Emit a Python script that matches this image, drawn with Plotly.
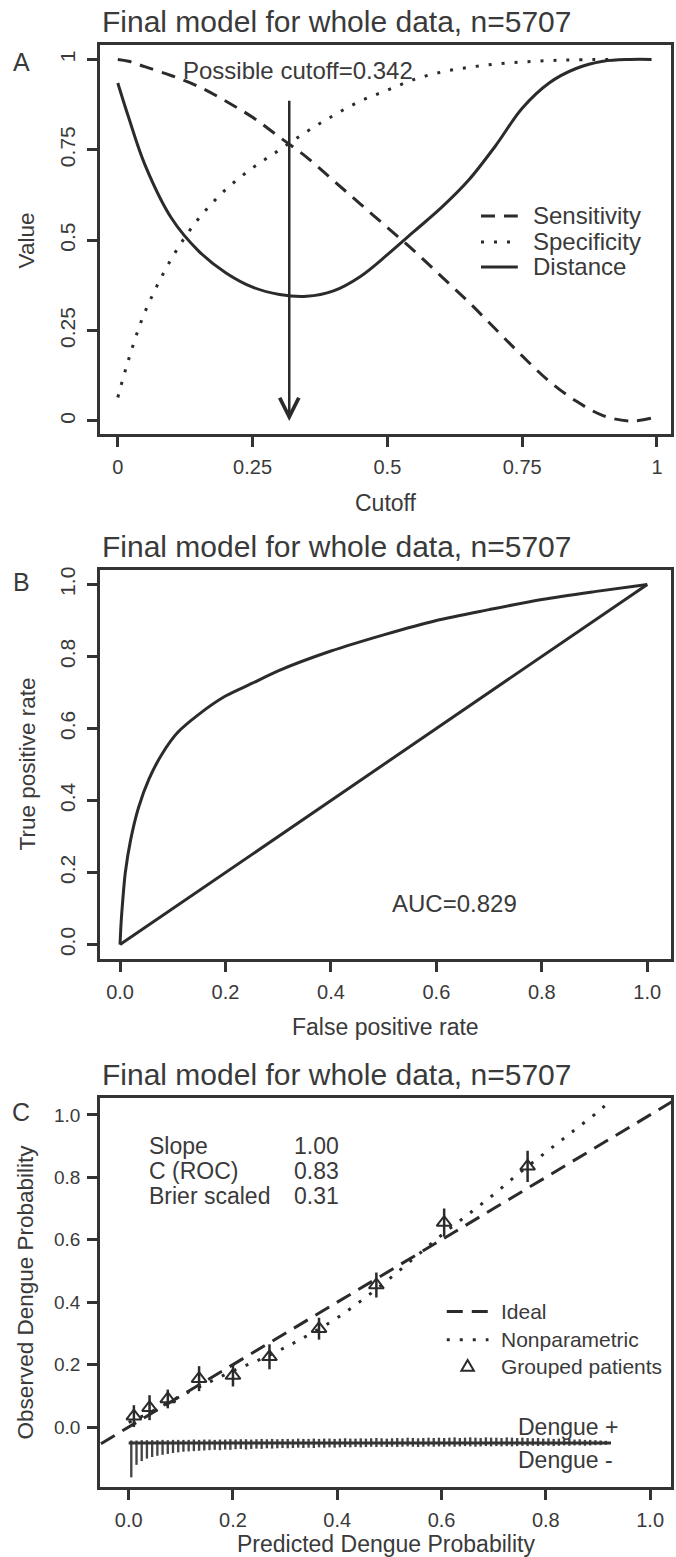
import plotly.graph_objects as go

# ---------------- data ----------------
# Panel A: cutoff curves
cutoff = [0.0, 0.02, 0.05, 0.1, 0.15, 0.2, 0.25, 0.3, 0.35, 0.4, 0.45, 0.5, 0.55,
          0.6, 0.65, 0.7, 0.75, 0.8, 0.85, 0.9, 0.95, 0.99]
sensitivity = [1.0, 0.995, 0.98, 0.955, 0.925, 0.885, 0.84, 0.785, 0.73, 0.665, 0.6,
               0.535, 0.47, 0.4, 0.33, 0.255, 0.18, 0.11, 0.055, 0.015, 0.0, 0.008]
spec_cutoff = [0.0, 0.02, 0.05, 0.1, 0.15, 0.2, 0.25, 0.3, 0.35, 0.4, 0.45, 0.5, 0.55,
               0.6, 0.65, 0.7, 0.75, 0.8, 0.85, 0.92]
specificity = [0.065, 0.17, 0.3, 0.45, 0.56, 0.64, 0.7, 0.75, 0.8, 0.845, 0.885, 0.915,
               0.945, 0.965, 0.978, 0.987, 0.993, 0.997, 0.999, 1.0]
distance = [0.935, 0.84, 0.71, 0.56, 0.47, 0.41, 0.37, 0.35, 0.345, 0.36, 0.40, 0.46,
            0.525, 0.59, 0.665, 0.76, 0.865, 0.935, 0.975, 0.995, 1.0, 1.0]
best_cutoff = 0.318
arrow_top = 0.89

# Panel B: ROC
fpr = [0.0, 0.002, 0.005, 0.01, 0.02, 0.035, 0.055, 0.08, 0.11, 0.15, 0.2, 0.25,
       0.3, 0.4, 0.5, 0.6, 0.7, 0.8, 0.9, 1.0]
tpr = [0.0, 0.06, 0.12, 0.2, 0.29, 0.38, 0.46, 0.53, 0.59, 0.64, 0.69, 0.725,
       0.76, 0.815, 0.86, 0.9, 0.93, 0.958, 0.98, 1.0]
diag = [0.0, 1.0]

# Panel C: calibration
ideal = [-0.3, 1.3]
np_x = [0.0, 0.02, 0.05, 0.1, 0.15, 0.2, 0.25, 0.3, 0.35, 0.4, 0.45, 0.5, 0.55, 0.6,
        0.65, 0.7, 0.75, 0.8, 0.85, 0.9, 0.92]
np_y = [0.015, 0.03, 0.055, 0.1, 0.14, 0.18, 0.215, 0.255, 0.3, 0.35, 0.41, 0.475,
        0.545, 0.615, 0.68, 0.745, 0.815, 0.88, 0.945, 1.01, 1.04]
grp_x = [0.01, 0.04, 0.075, 0.135, 0.2, 0.27, 0.365, 0.475, 0.605, 0.765]
grp_y = [0.035, 0.062, 0.09, 0.155, 0.165, 0.225, 0.315, 0.455, 0.655, 0.835]
grp_err = [0.035, 0.04, 0.03, 0.04, 0.035, 0.04, 0.035, 0.04, 0.045, 0.05]

rug_x = [round(0.005 + 0.01 * i, 3) for i in range(92)]
rug_neg = [0.11, 0.07, 0.058, 0.05, 0.045, 0.041, 0.038, 0.035, 0.032, 0.03,
           0.028, 0.027, 0.026, 0.025, 0.024, 0.023, 0.022, 0.023, 0.021, 0.022,
           0.02, 0.019, 0.021, 0.019, 0.018, 0.019, 0.017, 0.018, 0.017, 0.016,
           0.017, 0.016, 0.015, 0.016, 0.015, 0.016, 0.014, 0.015, 0.014, 0.015,
           0.014, 0.013, 0.014, 0.013, 0.014, 0.013, 0.012, 0.013, 0.012, 0.013,
           0.012, 0.013, 0.012, 0.011, 0.012, 0.013, 0.012, 0.011, 0.012, 0.011,
           0.012, 0.011, 0.012, 0.011, 0.010, 0.011, 0.012, 0.011, 0.010, 0.011,
           0.010, 0.011, 0.010, 0.011, 0.010, 0.009, 0.010, 0.009, 0.010, 0.009,
           0.009, 0.010, 0.009, 0.008, 0.009, 0.008, 0.008, 0.009, 0.008, 0.007,
           0.007, 0.006]
rug_pos = [0.008, 0.008, 0.009, 0.009, 0.009, 0.009, 0.010, 0.009, 0.010, 0.010,
           0.010, 0.010, 0.011, 0.010, 0.011, 0.011, 0.010, 0.011, 0.011, 0.012,
           0.011, 0.012, 0.012, 0.011, 0.012, 0.013, 0.012, 0.013, 0.012, 0.013,
           0.013, 0.012, 0.014, 0.013, 0.013, 0.014, 0.013, 0.014, 0.014, 0.013,
           0.014, 0.015, 0.014, 0.014, 0.015, 0.014, 0.015, 0.016, 0.015, 0.014,
           0.015, 0.016, 0.015, 0.017, 0.016, 0.015, 0.016, 0.017, 0.016, 0.017,
           0.016, 0.017, 0.018, 0.016, 0.017, 0.018, 0.017, 0.016, 0.018, 0.017,
           0.017, 0.016, 0.018, 0.017, 0.016, 0.017, 0.016, 0.015, 0.016, 0.014,
           0.015, 0.013, 0.014, 0.012, 0.013, 0.011, 0.012, 0.010, 0.010, 0.009,
           0.008, 0.007]
rug_base = -0.051
rug_line_x = [0.0, 0.925]

stats_labels = ["Slope", "C (ROC)", "Brier scaled"]
stats_values = ["1.00", "0.83", "0.31"]
stats_y = [0.90, 0.82, 0.74]

legA_names = ["Sensitivity", "Specificity", "Distance"]
legC_names = ["Ideal", "Nonparametric", "Grouped patients"]

title_text = "Final model for whole data, n=5707"

# ---------------- styling ----------------
W, H = 676, 1557
ML, MR, MT, MB = 100, 2, 45, 70
PW, PH = W - ML - MR, H - MT - MB
FONT = "Liberation Sans, Arial, Helvetica, sans-serif"
INK = "#2b2b2b"
TXT = "#3a3a3a"
DASH_A = "14px,9px"
DOT = "3px,10px"


def px(x):
    return (x - ML) / PW


def py(y):
    return 1 - (y - MT) / PH


fig = go.Figure()

# Panel A
fig.add_trace(go.Scatter(x=cutoff, y=sensitivity, mode="lines", name=legA_names[0],
                         line=dict(color=INK, width=3, dash=DASH_A, shape="spline"),
                         xaxis="x", yaxis="y"))
fig.add_trace(go.Scatter(x=spec_cutoff, y=specificity, mode="lines", name=legA_names[1],
                         line=dict(color=INK, width=3, dash=DOT, shape="spline"),
                         xaxis="x", yaxis="y"))
fig.add_trace(go.Scatter(x=cutoff, y=distance, mode="lines", name=legA_names[2],
                         line=dict(color=INK, width=3, shape="spline"),
                         xaxis="x", yaxis="y"))

# Panel B
fig.add_trace(go.Scatter(x=fpr, y=tpr, mode="lines",
                         line=dict(color=INK, width=3, shape="spline", smoothing=0.8),
                         xaxis="x2", yaxis="y2"))
fig.add_trace(go.Scatter(x=diag, y=diag, mode="lines",
                         line=dict(color=INK, width=3), xaxis="x2", yaxis="y2"))

# Panel C
fig.add_trace(go.Bar(x=rug_x, y=[-v for v in rug_neg], base=rug_base, width=0.0045,
                     marker=dict(color="#444", line=dict(width=0)),
                     xaxis="x3", yaxis="y3"))
fig.add_trace(go.Bar(x=rug_x, y=rug_pos, base=rug_base, width=0.0045,
                     marker=dict(color="#444", line=dict(width=0)),
                     xaxis="x3", yaxis="y3"))
fig.add_trace(go.Scatter(x=rug_line_x, y=[rug_base, rug_base], mode="lines",
                         line=dict(color="#333", width=3), xaxis="x3", yaxis="y3"))
fig.add_trace(go.Scatter(x=ideal, y=ideal, mode="lines", name=legC_names[0],
                         line=dict(color=INK, width=3, dash="16px,9px"),
                         xaxis="x3", yaxis="y3"))
fig.add_trace(go.Scatter(x=np_x, y=np_y, mode="lines", name=legC_names[1],
                         line=dict(color=INK, width=3, dash=DOT, shape="spline"),
                         xaxis="x3", yaxis="y3"))
fig.add_trace(go.Scatter(x=grp_x, y=grp_y, mode="markers", name=legC_names[2],
                         marker=dict(symbol="triangle-up-open", size=13, color=INK,
                                     line=dict(width=2, color=INK)),
                         error_y=dict(type="data", array=grp_err, visible=True,
                                      thickness=2.5, width=0, color=INK),
                         xaxis="x3", yaxis="y3"))

axis_common = dict(showline=True, linewidth=2.5, linecolor="#333", mirror=True,
                   ticks="outside", ticklen=10, tickwidth=2.5, tickcolor="#333",
                   showgrid=False, zeroline=False,
                   tickfont=dict(family=FONT, size=20, color=TXT))
xt = dict(ticklabelstandoff=3)
yrot = dict(tickangle=-90, ticklabelstandoff=4,
            tickfont=dict(family=FONT, size=21, color=TXT))

dA = [py(434), py(45)]
dB = [py(959), py(570)]
dC = [py(1487), py(1098)]

fig.update_layout(
    width=W, height=H, margin=dict(l=ML, r=MR, t=MT, b=MB),
    paper_bgcolor="white", plot_bgcolor="white", barmode="overlay",
    font=dict(family=FONT, color=TXT), showlegend=False,
    xaxis=dict(axis_common, **xt, domain=[0, 1], anchor="y", range=[-0.033, 1.026],
               tickvals=[0, 0.25, 0.5, 0.75, 1], ticktext=["0", "0.25", "0.5", "0.75", "1"]),
    yaxis=dict(axis_common, **yrot, domain=dA, anchor="x", range=[-0.036, 1.04],
               tickvals=[0, 0.25, 0.5, 0.75, 1], ticktext=["0", "0.25", "0.5", "0.75", "1"]),
    xaxis2=dict(axis_common, **xt, domain=[0, 1], anchor="y2", range=[-0.038, 1.045],
                tickvals=[0, 0.2, 0.4, 0.6, 0.8, 1.0], tickformat=".1f"),
    yaxis2=dict(axis_common, **yrot, domain=dB, anchor="x2", range=[-0.04, 1.04],
                tickvals=[0, 0.2, 0.4, 0.6, 0.8, 1.0], tickformat=".1f"),
    xaxis3=dict(axis_common, **xt, domain=[0, 1], anchor="y3", range=[-0.055, 1.04],
                tickvals=[0, 0.2, 0.4, 0.6, 0.8, 1.0], tickformat=".1f"),
    yaxis3=dict(axis_common, domain=dC, anchor="x3", range=[-0.192, 1.054],
                tickvals=[0, 0.2, 0.4, 0.6, 0.8, 1.0], tickformat=".1f",
                ticklabelstandoff=3, tickfont=dict(family=FONT, size=19, color=TXT)),
)

ann = []
shapes = []
# titles
for ty in [21, 546, 1074]:
    ann.append(dict(text=title_text, x=px(338), y=py(ty), xref="paper", yref="paper",
                    showarrow=False, xanchor="center", yanchor="middle",
                    font=dict(family=FONT, size=30, color=TXT)))
# panel letters
for letter, ly in [("A", 62), ("B", 582), ("C", 1112)]:
    ann.append(dict(text=letter, x=px(21), y=py(ly), xref="paper", yref="paper",
                    showarrow=False, xanchor="center", yanchor="middle",
                    font=dict(family=FONT, size=25, color=TXT)))
# axis titles
for t, ax_, ay_ in [("Cutoff", 387, 503), ("False positive rate", 387, 1027),
                    ("Predicted Dengue Probability", 387, 1544)]:
    ann.append(dict(text=t, x=px(ax_), y=py(ay_), xref="paper", yref="paper",
                    showarrow=False, xanchor="center", yanchor="middle",
                    font=dict(family=FONT, size=23, color=TXT)))
for t, ax_, ay_ in [("Value", 27, 240), ("True positive rate", 27, 764),
                    ("Observed Dengue Probability", 25, 1292)]:
    ann.append(dict(text=t, x=px(ax_), y=py(ay_), xref="paper", yref="paper",
                    showarrow=False, xanchor="center", yanchor="middle", textangle=-90,
                    font=dict(family=FONT, size=22.5, color=TXT)))

# Panel A arrow and label
ann.append(dict(x=best_cutoff, y=0.0, ax=best_cutoff, ay=arrow_top, xref="x", yref="y",
                axref="x", ayref="y", showarrow=True, arrowhead=5, arrowsize=1.5,
                arrowwidth=2.5, arrowcolor=INK, text=""))
ann.append(dict(text="Possible cutoff=0.342", x=0.335, y=0.97, xref="x", yref="y",
                showarrow=False, xanchor="center", yanchor="middle",
                font=dict(family=FONT, size=24, color=TXT)))

# Panel A legend (drawn)
legA_y = [216, 242, 267]
legA_dash = [DASH_A, DOT, "solid"]
for name, ly, dsh in zip(legA_names, legA_y, legA_dash):
    shapes.append(dict(type="line", xref="paper", yref="paper", x0=px(483), x1=px(520),
                       y0=py(ly), y1=py(ly), line=dict(color=INK, width=3, dash=dsh)))
    ann.append(dict(text=name, x=px(533), y=py(ly), xref="paper", yref="paper",
                    showarrow=False, xanchor="left", yanchor="middle",
                    font=dict(family=FONT, size=24, color=TXT)))

# Panel B AUC
ann.append(dict(text="AUC=0.829", x=0.635, y=0.115, xref="x2", yref="y2",
                showarrow=False, xanchor="center", yanchor="middle",
                font=dict(family=FONT, size=24, color=TXT)))

# Panel C stats
for lab, val, sy in zip(stats_labels, stats_values, stats_y):
    ann.append(dict(text=lab, x=0.035, y=sy, xref="x3", yref="y3", showarrow=False,
                    xanchor="left", yanchor="middle",
                    font=dict(family=FONT, size=23, color=TXT)))
    ann.append(dict(text=val, x=0.313, y=sy, xref="x3", yref="y3", showarrow=False,
                    xanchor="left", yanchor="middle",
                    font=dict(family=FONT, size=23, color=TXT)))
ann.append(dict(text="Dengue +", x=0.943, y=0.0, xref="x3", yref="y3", showarrow=False,
                xanchor="right", yanchor="middle", font=dict(family=FONT, size=23, color=TXT)))
ann.append(dict(text="Dengue -", x=0.933, y=-0.106, xref="x3", yref="y3", showarrow=False,
                xanchor="right", yanchor="middle", font=dict(family=FONT, size=23, color=TXT)))

# Panel C legend (drawn, data coordinates of panel C)
legC_y = [0.37, 0.28, 0.195]
lx0, lx1, ltx = 0.61, 0.69, 0.71
shapes.append(dict(type="line", xref="x3", yref="y3", x0=lx0, x1=lx1,
                   y0=legC_y[0], y1=legC_y[0],
                   line=dict(color=INK, width=3, dash="16px,9px")))
shapes.append(dict(type="line", xref="x3", yref="y3", x0=lx0, x1=lx1,
                   y0=legC_y[1], y1=legC_y[1], line=dict(color=INK, width=3, dash=DOT)))
tcx, tcy, tw, th = (lx0 + lx1) / 2, legC_y[2], 0.012, 0.018
shapes.append(dict(type="path", xref="x3", yref="y3",
                   path=f"M {tcx - tw},{tcy - th * 0.8} L {tcx + tw},{tcy - th * 0.8} "
                        f"L {tcx},{tcy + th * 1.1} Z",
                   line=dict(color=INK, width=2)))
for name, ly in zip(legC_names, legC_y):
    ann.append(dict(text=name, x=ltx, y=ly, xref="x3", yref="y3", showarrow=False,
                    xanchor="left", yanchor="middle",
                    font=dict(family=FONT, size=21, color=TXT)))

fig.update_layout(annotations=ann, shapes=shapes)
fig.write_html("out.html", include_plotlyjs=True, config={"displayModeBar": False},
               post_script="document.body.style.margin='0';"
                           "document.body.style.overflow='hidden';")
